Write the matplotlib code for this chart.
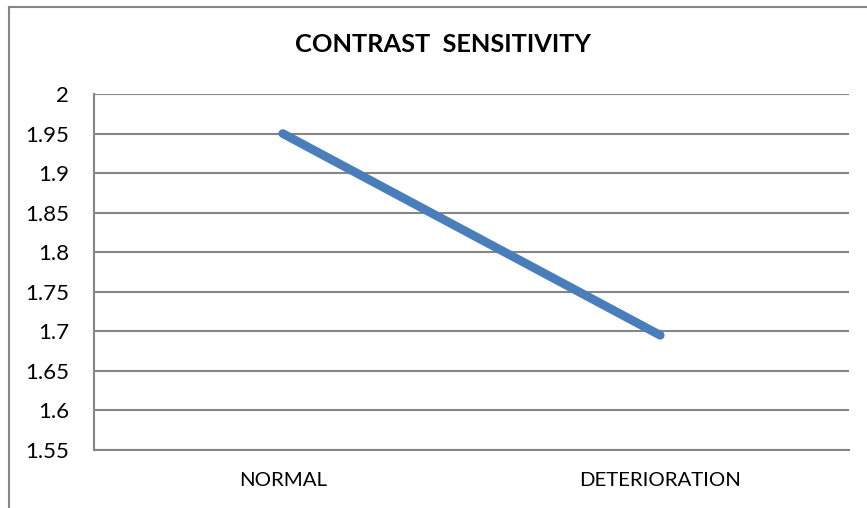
import matplotlib
matplotlib.use("Agg")
import matplotlib.pyplot as plt
from matplotlib.lines import Line2D

categories = ["NORMAL", "DETERIORATION"]
values = [1.95, 1.695]
yticks = [1.55, 1.6, 1.65, 1.7, 1.75, 1.8, 1.85, 1.9, 1.95, 2]
ytick_labels = ["1.55", "1.6", "1.65", "1.7", "1.75", "1.8", "1.85", "1.9", "1.95", "2"]

plt.rcParams['font.family'] = ['Lato', 'DejaVu Sans']

W, H = 867, 508
fig = plt.figure(figsize=(W / 100, H / 100), dpi=100)
ax = fig.add_axes([94 / W, 1 - 450 / H, (849 - 94) / W, (450 - 94) / H])

grid_c = '#868686'
x = list(range(len(categories)))
ax.plot(x, values, color='#4A7EBB', lw=6.3, solid_capstyle='round', zorder=3)

ax.set_xlim(-0.5, len(categories) - 0.5)
ax.set_ylim(1.55, 2)
ax.set_yticks(yticks)
ax.set_yticklabels(ytick_labels)
ax.set_xticks(x)
ax.set_xticklabels(categories)
ax.tick_params(axis='both', length=0, colors='black')
ax.tick_params(axis='y', pad=18, labelsize=16)
ax.tick_params(axis='x', pad=16, labelsize=14.7)
ax.yaxis.grid(True, color=grid_c, lw=1.5)
ax.set_axisbelow(True)
for s in ['top', 'right']:
    ax.spines[s].set_visible(False)
for s in ['left', 'bottom']:
    ax.spines[s].set_color(grid_c)
    ax.spines[s].set_linewidth(1.5)

fig.text(443 / W, 1 - 45 / H, "CONTRAST  SENSITIVITY",
         ha='center', va='center', fontsize=18.3, fontweight='bold')

# chart area border (cut off at right and bottom)
fig.add_artist(Line2D([9 / W, 1.0], [1 - 7 / H, 1 - 7 / H], transform=fig.transFigure,
                      color=grid_c, lw=1.5))
fig.add_artist(Line2D([9 / W, 9 / W], [1 - 7 / H, 0.0], transform=fig.transFigure,
                      color=grid_c, lw=1.5))

plt.savefig("out.png", dpi=100)
